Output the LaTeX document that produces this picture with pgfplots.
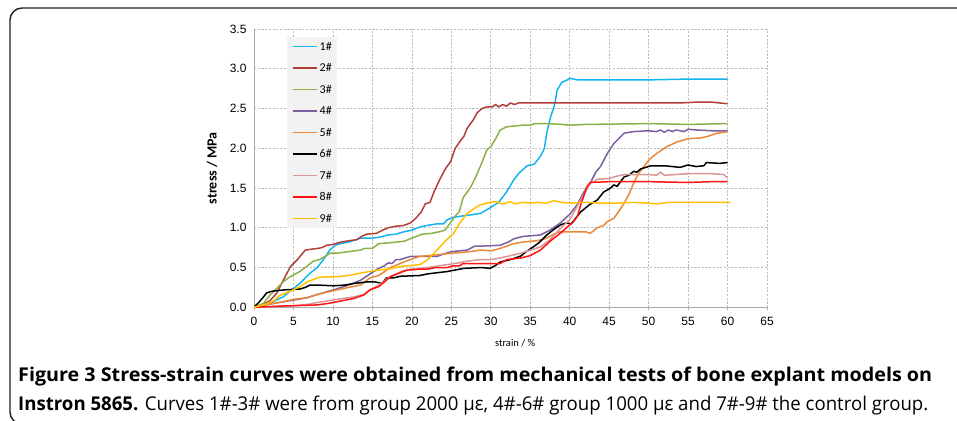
\documentclass[border=0pt]{standalone}
\usepackage{pgfplots}
\pgfplotsset{compat=1.18}
\usepackage{fontspec}
\setmainfont{Liberation Sans}
\newfontfamily\capfont{Open Sans}
\newfontfamily\calfont{Carlito}
\definecolor{cA}{RGB}{20,180,240}
\definecolor{cB}{RGB}{178,62,58}
\definecolor{cC}{RGB}{140,176,74}
\definecolor{cD}{RGB}{122,94,160}
\definecolor{cE}{RGB}{234,137,58}
\definecolor{cF}{RGB}{0,0,0}
\definecolor{cG}{RGB}{217,150,148}
\definecolor{cH}{RGB}{255,20,20}
\definecolor{cI}{RGB}{255,192,0}
\definecolor{gridc}{RGB}{190,190,190}
\definecolor{axc}{RGB}{170,170,170}
\definecolor{legbg}{RGB}{242,242,242}
\newsavebox\capbox
\newcommand\fitw[2]{\sbox\capbox{#2}\pgfmathsetmacro\sx{#1/\the\wd\capbox}\scalebox{\sx}[1]{\usebox\capbox}}
\begin{document}
\begin{tikzpicture}[x=1pt,y=1pt]
\path[use as bounding box] (0,0) rectangle (957,420);
\begin{scope}
\clip (0,0) rectangle (957,420);
\draw[line width=1.4pt, color={rgb,255:red,30;green,30;blue,30}, rounded corners=12pt] (995,412) -- (10,412) -- (10,-4) -- (995,-4);
\end{scope}
\node[anchor=base west, inner sep=0pt, font=\capfont\fontsize{19}{19}\selectfont] at (18,38.3) {\fitw{914}{\bfseries Figure 3 Stress-strain curves were obtained from mechanical tests of bone explant models on}};
\node[anchor=base west, inner sep=0pt, font=\capfont\fontsize{19}{19}\selectfont] at (18,10) {\fitw{910}{\textbf{Instron 5865.} Curves 1\#-3\# were from group 2000 µε, 4\#-6\# group 1000 µε and 7\#-9\# the control group.}};
\begin{axis}[
  at={(254pt,112.7pt)}, anchor=south west,
  scale only axis, width=513pt, height=278.3pt,
  xmin=0, xmax=65, ymin=0, ymax=3.5,
  xtick={0,5,...,65}, ytick={0,0.5,...,3.5},
  grid=major,
  major grid style={color=gridc, dash pattern=on 2.2pt off 1.5pt, line width=0.7pt},
  axis lines=left,
  axis line style={-, color=axc, line width=0.8pt},
  tick align=outside, major tick length=3pt,
  xtick style={draw=axc, line width=0.7pt},
  ytick style={draw=none},
  /pgf/number format/assume math mode=true,
  tick label style={font=\fontsize{12}{12}\selectfont},
  yticklabel style={/pgf/number format/fixed, /pgf/number format/fixed zerofill, /pgf/number format/precision=1, xshift=-1pt},
  xticklabel style={yshift=-3pt},
  xlabel={strain / \%},
  xlabel style={font=\calfont\fontsize{10.5}{10.5}\selectfont, at={(axis description cs:0.509,-0.128)}, anchor=center},
  ylabel={stress / MPa},
  ylabel style={font=\calfont\bfseries\fontsize{14}{14}\selectfont, at={(axis description cs:-0.0819,0.5)}, anchor=center},
  legend style={at={(axis description cs:0.0643,0.971)}, anchor=north west, fill=legbg, draw=none,
    font=\calfont\fontsize{12}{12}\selectfont, row sep=13.9pt, inner xsep=5pt, inner ysep=5.5pt,
    nodes={inner sep=0pt, text height=7.6pt, text depth=0pt}, column sep=2pt},
  legend image code/.code={\draw[#1] (0pt,0pt) -- (24pt,0pt);},
  every axis plot/.append style={line width=1.5pt, line join=round},
]
\addplot[cA] coordinates {(0,0) (1,0.02) (2,0.05) (3,0.1) (3.7,0.13) (4.5,0.2) (5.8,0.3) (7,0.42) (8,0.5) (8.8,0.6) (9.6,0.72) (10.3,0.78) (10.9,0.8) (12,0.82) (12.6,0.84) (13.5,0.87) (15,0.87) (15.8,0.88) (17,0.91) (18,0.92) (19,0.95) (20,0.97) (21,1.01) (22,1.03) (23.2,1.05) (24,1.05) (24.5,1.1) (25.2,1.13) (26.5,1.15) (28,1.17) (28.7,1.18) (29.9,1.25) (31,1.32) (32,1.45) (32.9,1.6) (33.5,1.68) (34.6,1.78) (35.5,1.8) (36.3,1.9) (36.8,2.0) (37.1,2.2) (37.6,2.4) (38.1,2.55) (38.4,2.73) (38.7,2.78) (39,2.83) (39.5,2.85) (40,2.88) (41,2.86) (45,2.86) (50,2.86) (55,2.87) (60,2.87)};
\addlegendentry{1\#}
\addplot[cB] coordinates {(0,0) (1,0.03) (2,0.08) (2.9,0.18) (3.5,0.3) (4.6,0.51) (5.5,0.6) (6.5,0.72) (8,0.74) (8.6,0.75) (9.2,0.78) (10,0.79) (11,0.82) (12.2,0.84) (13,0.85) (13.8,0.9) (14.3,0.92) (15.5,0.93) (16.3,0.97) (17,1.0) (18,1.02) (19,1.03) (19.8,1.06) (20.5,1.12) (21.2,1.2) (21.7,1.3) (22.3,1.32) (22.8,1.45) (23.5,1.6) (24.3,1.75) (24.9,1.83) (25.5,2.0) (26.2,2.1) (26.6,2.15) (27,2.25) (27.8,2.36) (28.3,2.45) (28.9,2.5) (29.5,2.52) (30.2,2.52) (30.6,2.55) (31,2.52) (31.5,2.55) (32,2.53) (32.5,2.57) (33,2.55) (33.5,2.57) (40,2.57) (50,2.57) (54,2.57) (56,2.58) (58,2.58) (59,2.57) (60,2.56)};
\addlegendentry{2\#}
\addplot[cC] coordinates {(0,0) (1.2,0.05) (2,0.15) (3,0.25) (3.7,0.32) (4.5,0.38) (5.8,0.45) (6.5,0.5) (7.5,0.58) (8.3,0.6) (9.2,0.65) (9.6,0.68) (10.5,0.68) (12,0.7) (13.5,0.72) (14,0.74) (15,0.74) (15.8,0.8) (17,0.81) (18,0.82) (19,0.83) (20,0.87) (20.8,0.9) (21.3,0.92) (22.5,0.93) (23.5,0.95) (24.2,0.97) (24.8,1.05) (25.5,1.15) (26,1.2) (26.5,1.38) (27.4,1.5) (28,1.62) (28.8,1.8) (29.5,1.98) (30,2.02) (30.5,2.1) (31.2,2.23) (32,2.27) (33,2.28) (34,2.29) (35,2.29) (35.5,2.31) (37,2.31) (39,2.3) (40,2.29) (42,2.3) (50,2.31) (55,2.3) (60,2.31)};
\addlegendentry{3\#}
\addplot[cD] coordinates {(0,0) (2,0.04) (3.7,0.07) (5,0.09) (6.7,0.12) (8,0.16) (10.1,0.22) (12,0.28) (13.5,0.34) (14.7,0.42) (15.8,0.49) (16.5,0.52) (17,0.56) (17.5,0.55) (18,0.6) (18.5,0.6) (19.8,0.64) (21,0.64) (23.2,0.64) (24,0.67) (25,0.7) (26,0.71) (27,0.72) (28,0.77) (29,0.77) (31.2,0.78) (32.2,0.82) (32.9,0.86) (34,0.89) (36.3,0.91) (37.5,0.97) (38.8,1.06) (40,1.17) (40.95,1.29) (41.8,1.45) (42.6,1.56) (43.3,1.7) (43.9,1.77) (44.8,1.94) (45.6,2.06) (46.9,2.19) (48.1,2.21) (50,2.22) (51,2.21) (51.5,2.23) (52,2.2) (52.5,2.23) (53,2.21) (53.5,2.23) (54.5,2.21) (55,2.24) (56,2.23) (58,2.22) (60,2.22)};
\addlegendentry{4\#}
\addplot[cE] coordinates {(0,0) (2,0.04) (3.7,0.07) (5,0.1) (6.7,0.12) (8,0.16) (10.1,0.21) (12,0.25) (13.5,0.28) (14.7,0.37) (15.8,0.4) (17.3,0.5) (18.5,0.55) (19.8,0.6) (21,0.64) (23.2,0.66) (25,0.68) (27.4,0.7) (28.7,0.72) (30,0.71) (31.2,0.74) (32.9,0.8) (34,0.82) (36,0.84) (37.1,0.87) (38,0.92) (38.8,0.95) (40,0.95) (42,0.95) (42.6,0.93) (43.5,1.0) (44.3,1.03) (44.8,1.08) (45.6,1.12) (46.3,1.22) (46.9,1.31) (47.5,1.42) (48.1,1.56) (48.7,1.68) (49.4,1.77) (50.2,1.87) (51.1,1.94) (52.3,2.02) (53.6,2.08) (55,2.12) (56.6,2.13) (57.5,2.15) (58.7,2.19) (59.5,2.2) (60,2.21)};
\addlegendentry{5\#}
\addplot[cF] coordinates {(0,0) (0.5,0.05) (1.2,0.13) (1.6,0.18) (2.2,0.2) (2.9,0.21) (4,0.22) (5.8,0.23) (6.5,0.25) (7.1,0.28) (8,0.28) (10.1,0.27) (11.5,0.28) (12.7,0.3) (14.4,0.32) (15.2,0.32) (15.8,0.31) (16.2,0.3) (16.8,0.37) (17.7,0.37) (18.5,0.39) (21,0.40) (22,0.42) (22.8,0.43) (24.5,0.45) (26.6,0.49) (28.8,0.5) (29.9,0.49) (30.5,0.52) (31.2,0.57) (32.5,0.6) (33.8,0.645) (34.5,0.7) (35.4,0.76) (36.2,0.82) (37.1,0.91) (38,0.98) (38.8,1.035) (39.5,1.06) (40.2,1.05) (41.4,1.20) (42.5,1.29) (43.5,1.35) (44.3,1.45) (45.2,1.50) (45.6,1.54) (46,1.52) (46.9,1.64) (47.5,1.66) (48.1,1.71) (48.5,1.7) (49,1.74) (50.3,1.78) (52,1.78) (53,1.77) (54,1.76) (55,1.79) (56,1.77) (57,1.78) (57.3,1.82) (59,1.81) (60,1.82)};
\addlegendentry{6\#}
\addplot[cG] coordinates {(0,0) (3,0.01) (5,0.02) (7,0.04) (8,0.06) (10.5,0.1) (12.6,0.13) (13.9,0.16) (14.7,0.22) (15.8,0.28) (17.3,0.39) (18.9,0.46) (20,0.48) (22,0.5) (24,0.53) (26,0.56) (27,0.58) (28.7,0.6) (30,0.6) (31.2,0.62) (33.8,0.68) (36.3,0.76) (37.5,0.85) (38.8,0.99) (40,1.1) (41.4,1.35) (42.6,1.56) (43.5,1.61) (45,1.62) (46,1.65) (47,1.67) (50,1.67) (51,1.66) (51.5,1.7) (52,1.66) (55,1.68) (58,1.68) (59.5,1.67) (60,1.63)};
\addlegendentry{7\#}
\addplot[cH] coordinates {(0,0) (3.7,0.016) (5,0.02) (8,0.03) (9.5,0.05) (10.5,0.07) (12.6,0.11) (13.9,0.155) (14.7,0.22) (15.8,0.26) (17.3,0.385) (18.9,0.45) (19.5,0.47) (20,0.47) (21,0.48) (22,0.48) (23,0.5) (24.5,0.5) (25.2,0.52) (26,0.52) (26.5,0.55) (28.7,0.55) (31.2,0.55) (32,0.6) (33.8,0.62) (35,0.65) (36.3,0.72) (37.5,0.83) (38.8,0.93) (40.5,1.08) (41,1.15) (41.4,1.29) (42.2,1.52) (42.6,1.57) (45,1.58) (50,1.58) (55,1.57) (58,1.58) (60,1.58)};
\addlegendentry{8\#}
\addplot[cI] coordinates {(0,0) (1.5,0.04) (2.5,0.08) (3.3,0.15) (5,0.22) (6,0.27) (6.7,0.32) (8.4,0.38) (10.5,0.385) (12,0.4) (13.5,0.43) (15.8,0.47) (17,0.48) (18,0.5) (19,0.52) (20.5,0.53) (21.1,0.54) (22,0.6) (23.2,0.72) (24.2,0.83) (25.3,0.93) (26,1.05) (27,1.18) (28,1.25) (28.7,1.29) (29.5,1.31) (30.5,1.33) (31.5,1.3) (32.5,1.33) (33,1.3) (34,1.32) (35,1.31) (36,1.32) (37,1.31) (38,1.34) (39,1.32) (40,1.31) (42,1.32) (44,1.31) (46,1.31) (48,1.32) (50,1.31) (51,1.3) (52.5,1.32) (55,1.32) (60.4,1.32)};
\addlegendentry{9\#}
\end{axis}
\end{tikzpicture}
\end{document}
